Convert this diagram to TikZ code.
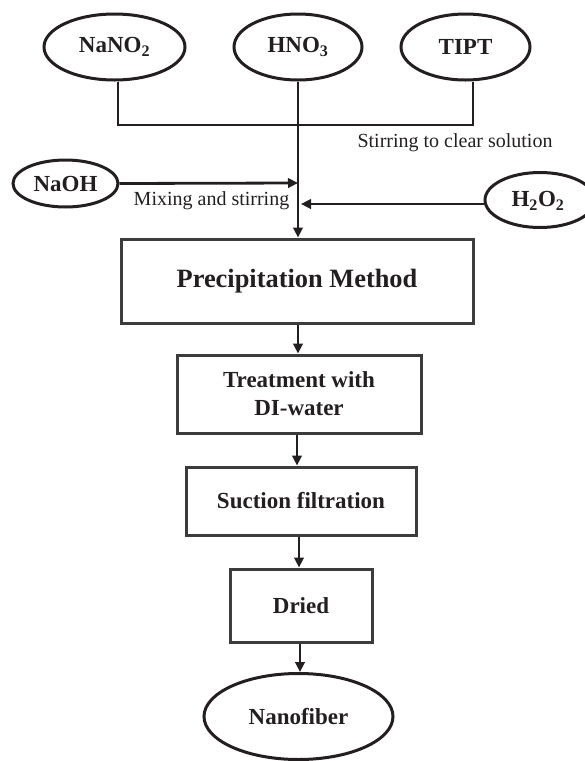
\documentclass[tikz,border=0pt]{standalone}
\usepackage{fontspec}
\setmainfont{Liberation Serif}
\usetikzlibrary{shapes.geometric,arrows.meta}
\definecolor{ink}{HTML}{231F20}
\definecolor{boxline}{HTML}{3C3C3C}
\begin{document}
\begin{tikzpicture}[x=1pt,y=-1pt,
  oval/.style={draw=ink,line width=3pt,ellipse,inner sep=0pt,text=ink,
    font=\fontsize{23}{27}\selectfont\bfseries},
  stepbox/.style={draw=boxline,line width=3pt,rectangle,inner sep=0pt,text=ink,
    font=\fontsize{23}{28}\selectfont\bfseries,align=center},
  lab/.style={text=ink,inner sep=0pt,font=\fontsize{20}{24}\selectfont},
  conn/.style={draw=ink,line width=2.8pt},
  arr/.style={conn,-{Triangle[length=10pt,width=9.5pt]}}]
\useasboundingbox (0,0) rectangle (585,761);
% top reagents
\node[oval,minimum width=141pt,minimum height=66pt] (na) at (114.5,47) {NaNO\textsubscript{2}};
\node[oval,minimum width=128pt,minimum height=66pt] (hn) at (298,47) {HNO\textsubscript{3}};
\node[oval,minimum width=129pt,minimum height=66pt] (ti) at (465.5,47) {TIPT};
% side reagents
\node[oval,minimum width=105pt,minimum height=47pt] (oh) at (65.5,183.5) {NaOH};
\node[oval,minimum width=110pt,minimum height=55pt] (hp) at (540,200) {};
\node[text=ink,inner sep=0pt,font=\fontsize{23}{27}\selectfont\bfseries] (hpt) at (538,201) {H\textsubscript{2}O\textsubscript{2}};
% process boxes
\node[stepbox,minimum width=352pt,minimum height=84pt,font=\fontsize{26.4}{30}\selectfont\bfseries] (b1) at (297,281) {Precipitation Method};
\node[stepbox,minimum width=244pt,minimum height=78pt] (b2) at (299,394) {Treatment with\\DI-water};
\node[stepbox,minimum width=230pt,minimum height=68pt] (b3) at (301,501) {Suction filtration};
\node[stepbox,minimum width=142pt,minimum height=73pt] (b4) at (301,605.5) {Dried};
\node[oval,minimum width=189pt,minimum height=86pt] (nf) at (298.5,716.5) {Nanofiber};
% labels
\node[lab] (stir) at (455,143) {Stirring to clear solution};
\node[lab] (mix) at (211.5,201) {Mixing and stirring};
% join line
\coordinate (jl) at (118,125);
\coordinate (jr) at (473,125);
\draw[conn] (jl |- na.south) -- (jl) -- (jr) -- (jr |- ti.south);
% main line
\draw[arr] (hn.south) -- (hn.south |- b1.north);
\coordinate (mainOH) at (298,183);
\coordinate (mainHP) at (301,204);
\draw[arr] (oh.east) -- (mainOH);
\draw[arr] (hp.west |- mainHP) -- (mainHP);
% flow
\draw[arr] (b1.south -| 298,0) -- (b2.north -| 298,0);
\draw[arr] (b2.south -| 297,0) -- (b3.north -| 297,0);
\draw[arr] (b3.south -| 299,0) -- (b4.north -| 299,0);
\draw[arr] (b4.south -| 300,0) -- (nf.north -| 300,0);
\end{tikzpicture}
\end{document}
